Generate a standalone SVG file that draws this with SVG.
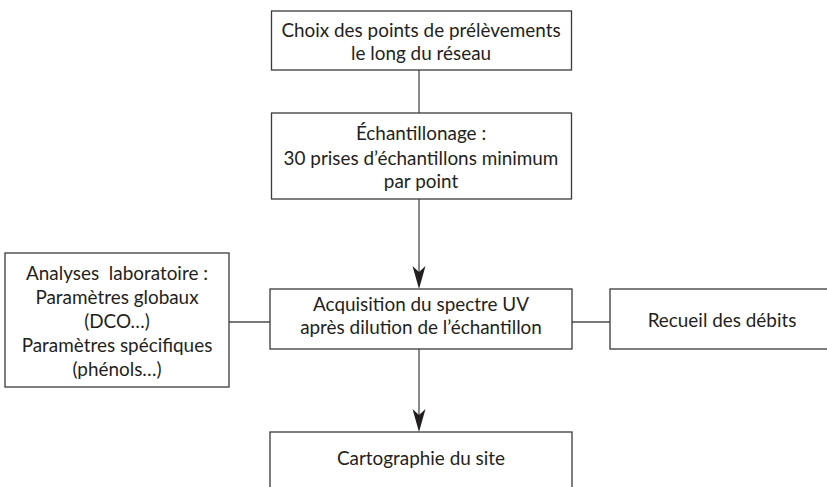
<svg xmlns="http://www.w3.org/2000/svg" width="827" height="487" viewBox="0 0 827 487">
<style>
.box{fill:#fff;stroke:#3a3a3a;stroke-width:1.3}
.t{font-family:Lato,"Open Sans","Liberation Sans",sans-serif;font-size:18.9px;fill:#231f20;text-anchor:middle}
.c{stroke:#4a4a4a;stroke-width:1.3;fill:none}
.ah{fill:#231f20;stroke:none}
</style>
<defs>
<path id="head" d="M0,0 L-6.5,-23 L0,-17 L6.5,-23 Z"/>
</defs>
<rect width="827" height="487" fill="#fff"/>
<g id="connectors">
<line class="c" x1="419" y1="70" x2="419" y2="113"/>
<line class="c" x1="419" y1="199" x2="419" y2="280"/>
<use href="#head" class="ah" x="419" y="289"/>
<line class="c" x1="419" y1="349" x2="419" y2="423"/>
<use href="#head" class="ah" x="419" y="432"/>
<line class="c" x1="229" y1="322" x2="270" y2="322"/>
<line class="c" x1="572" y1="322" x2="610" y2="322"/>
</g>
<g id="n1">
<rect class="box" x="271.5" y="11" width="300" height="59"/>
<text class="t" x="421" y="37">Choix des points de prélèvements</text>
<text class="t" x="421" y="60">le long du réseau</text>
</g>
<g id="n2">
<rect class="box" x="271.5" y="113" width="300" height="86"/>
<text class="t" x="421" y="140">Échantillonage :</text>
<text class="t" x="421" y="165">30 prises d’échantillons minimum</text>
<text class="t" x="421" y="188">par point</text>
</g>
<g id="n3">
<rect class="box" x="270" y="289" width="302" height="60"/>
<text class="t" x="421" y="311">Acquisition du spectre UV</text>
<text class="t" x="421" y="334">après dilution de l’échantillon</text>
</g>
<g id="n4">
<rect class="box" x="610" y="289" width="225" height="60"/>
<text class="t" x="722" y="327">Recueil des débits</text>
</g>
<g id="n5">
<rect class="box" x="5" y="253" width="224" height="134"/>
<text class="t" x="117" y="280" xml:space="preserve">Analyses  laboratoire :</text>
<text class="t" x="117" y="304">Paramètres globaux</text>
<text class="t" x="117" y="328">(DCO…)</text>
<text class="t" x="117" y="352">Paramètres spécifiques</text>
<text class="t" x="117" y="376">(phénols…)</text>
</g>
<g id="n6">
<rect class="box" x="270" y="432" width="302" height="70"/>
<text class="t" x="421" y="465">Cartographie du site</text>
</g>
</svg>
